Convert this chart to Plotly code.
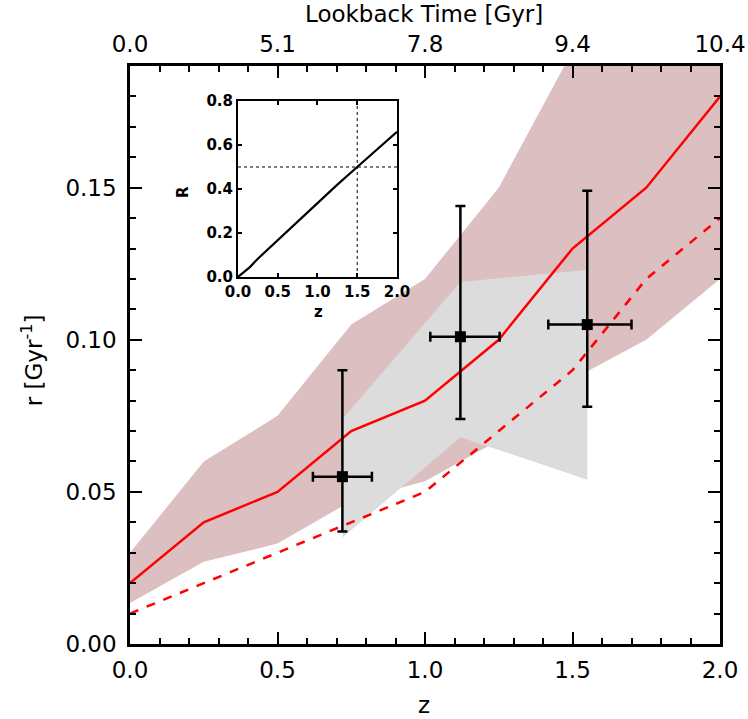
import plotly.graph_objects as go

# ---------------- data ----------------
z_grid = [0.0, 0.25, 0.5, 0.75, 1.0, 1.25, 1.5, 1.75, 2.0]
r_model = [0.020, 0.040, 0.050, 0.070, 0.080, 0.100, 0.130, 0.150, 0.180]
r_model_dashed = [0.010, 0.020, 0.030, 0.040, 0.050, 0.070, 0.090, 0.120, 0.140]
band_upper = [0.030, 0.060, 0.075, 0.105, 0.120, 0.150, 0.195, 0.220, 0.250]
band_lower = [0.0135, 0.027, 0.033, 0.047, 0.0535, 0.067, 0.087, 0.100, 0.120]

obs_z = [0.72, 1.12, 1.55]
obs_upper = [0.074, 0.119, 0.123]
obs_lower = [0.035, 0.068, 0.054]

pts_z = [0.72, 1.12, 1.55]
pts_r = [0.055, 0.101, 0.105]
pts_r_plus = [0.035, 0.043, 0.044]
pts_r_minus = [0.018, 0.027, 0.027]
pts_z_plus = [0.10, 0.133, 0.15]
pts_z_minus = [0.10, 0.102, 0.132]

inset_z = [0.0, 0.15, 0.25, 0.5, 0.75, 1.0, 1.25, 1.5, 1.75, 2.0]
inset_R = [0.0, 0.045, 0.083, 0.167, 0.255, 0.338, 0.42, 0.50, 0.58, 0.66]

bottom_ticks = [0.0, 0.5, 1.0, 1.5, 2.0]
top_tick_text = ["0.0", "5.1", "7.8", "9.4", "10.4"]
y_ticks = [0.00, 0.05, 0.10, 0.15]

BROWN = "#dcbfc0"
GRAY = "#dcdcdc"
FONT = "DejaVu Sans"

fig = go.Figure()

# brown model band
fig.add_trace(go.Scatter(
    x=z_grid + z_grid[::-1], y=band_upper + band_lower[::-1],
    fill="toself", fillcolor=BROWN, line=dict(width=0), mode="lines",
    hoverinfo="skip", showlegend=False))
# gray observational band
fig.add_trace(go.Scatter(
    x=obs_z + obs_z[::-1], y=obs_upper + obs_lower[::-1],
    fill="toself", fillcolor=GRAY, line=dict(width=0), mode="lines",
    hoverinfo="skip", showlegend=False))
# model lines
fig.add_trace(go.Scatter(x=z_grid, y=r_model, mode="lines",
                         line=dict(color="#ff0000", width=2.5), showlegend=False))
fig.add_trace(go.Scatter(x=z_grid, y=r_model_dashed, mode="lines",
                         line=dict(color="#ff0000", width=2.5, dash="dash"), showlegend=False))
# data points with error bars
fig.add_trace(go.Scatter(
    x=pts_z, y=pts_r, mode="markers",
    marker=dict(symbol="square", size=11, color="black"),
    error_y=dict(type="data", symmetric=False, array=pts_r_plus, arrayminus=pts_r_minus,
                 color="black", thickness=2.5, width=5),
    error_x=dict(type="data", symmetric=False, array=pts_z_plus, arrayminus=pts_z_minus,
                 color="black", thickness=2.5, width=5),
    showlegend=False))

# dummy trace for top axis
fig.add_trace(go.Scatter(x=[0, 2], y=[0, 0], xaxis="x3", yaxis="y", mode="markers",
                         marker=dict(opacity=0), hoverinfo="skip", showlegend=False))

# inset
fig.add_trace(go.Scatter(x=inset_z, y=inset_R, xaxis="x2", yaxis="y2", mode="lines",
                         line=dict(color="black", width=2.2), showlegend=False))
fig.add_trace(go.Scatter(x=[1.5, 1.5], y=[0, 0.8], xaxis="x2", yaxis="y2", mode="lines",
                         line=dict(color="black", width=1, dash="dot"), showlegend=False))
fig.add_trace(go.Scatter(x=[0, 2], y=[0.5, 0.5], xaxis="x2", yaxis="y2", mode="lines",
                         line=dict(color="black", width=1, dash="dot"), showlegend=False))

main_font = dict(family=FONT, size=23, color="black")
inset_font = dict(family=FONT, size=15, color="black", weight="bold")

fig.update_layout(
    width=748, height=719,
    margin=dict(l=130, r=28, t=66, b=75, autoexpand=False),
    plot_bgcolor="white", paper_bgcolor="white",
    xaxis=dict(range=[0, 2], domain=[0, 1], anchor="y", automargin=False,
               tickvals=bottom_ticks, tickformat=".1f", ticks="inside", ticklen=12,
               tickwidth=2, tickcolor="black",
               minor=dict(dtick=0.1, ticks="inside", ticklen=6, tickwidth=2, tickcolor="black"),
               showline=True, linecolor="black", linewidth=2.5, mirror=True,
               showgrid=False, zeroline=False, tickfont=main_font, ticklabelstandoff=4),
    yaxis=dict(range=[0, 0.19], domain=[0, 1], anchor="x", automargin=False,
               tickvals=y_ticks, tickformat=".2f", ticks="inside", ticklen=12,
               tickwidth=2, tickcolor="black",
               minor=dict(dtick=0.01, ticks="inside", ticklen=6, tickwidth=2, tickcolor="black"),
               showline=True, linecolor="black", linewidth=2.5, mirror="ticks",
               showgrid=False, zeroline=False, tickfont=main_font, ticklabelstandoff=6),
    xaxis3=dict(range=[0, 2], overlaying="x", side="top", anchor="y", automargin=False,
                tickvals=bottom_ticks, ticktext=top_tick_text, ticks="inside", ticklen=12,
                tickwidth=2, tickcolor="black",
                minor=dict(dtick=0.1, ticks="inside", ticklen=6, tickwidth=2, tickcolor="black"),
                showline=False, showgrid=False, zeroline=False, tickfont=main_font,
                ticklabelstandoff=8),
    xaxis2=dict(range=[0, 2], domain=[0.183, 0.4525], anchor="y2", automargin=False,
                tickvals=[0, 0.5, 1.0, 1.5, 2.0], tickformat=".1f", ticks="inside", ticklen=4,
                tickwidth=1.5, tickcolor="black",
                showline=True, linecolor="black", linewidth=2, mirror="ticks",
                showgrid=False, zeroline=False, tickfont=inset_font),
    yaxis2=dict(range=[0, 0.8], domain=[0.635, 0.9394], anchor="x2", automargin=False,
                tickvals=[0, 0.2, 0.4, 0.6, 0.8], tickformat=".1f", ticks="inside", ticklen=4,
                tickwidth=1.5, tickcolor="black",
                showline=True, linecolor="black", linewidth=2, mirror="ticks",
                showgrid=False, zeroline=False, tickfont=inset_font),
    annotations=[
        dict(text="Lookback Time [Gyr]", x=0.4983, y=1.09, xref="paper", yref="paper",
             showarrow=False, font=main_font, xanchor="center", yanchor="middle"),
        dict(text="z", x=0.4983, y=-0.105, xref="paper", yref="paper",
             showarrow=False, font=main_font, xanchor="center", yanchor="middle"),
        dict(text="r [Gyr<sup>-1</sup>]", x=-0.166, y=0.491, xref="paper", yref="paper",
             showarrow=False, font=main_font, textangle=-90, xanchor="center", yanchor="middle"),
        dict(text="R", x=(183 - 130) / 590, y=(644 - 192) / 578, xref="paper", yref="paper",
             showarrow=False, font=inset_font, textangle=-90, xanchor="center", yanchor="middle"),
        dict(text="z", x=(318 - 130) / 590, y=(644 - 312) / 578, xref="paper", yref="paper",
             showarrow=False, font=inset_font, xanchor="center", yanchor="middle"),
    ],
)

fig.write_html("out.html")
